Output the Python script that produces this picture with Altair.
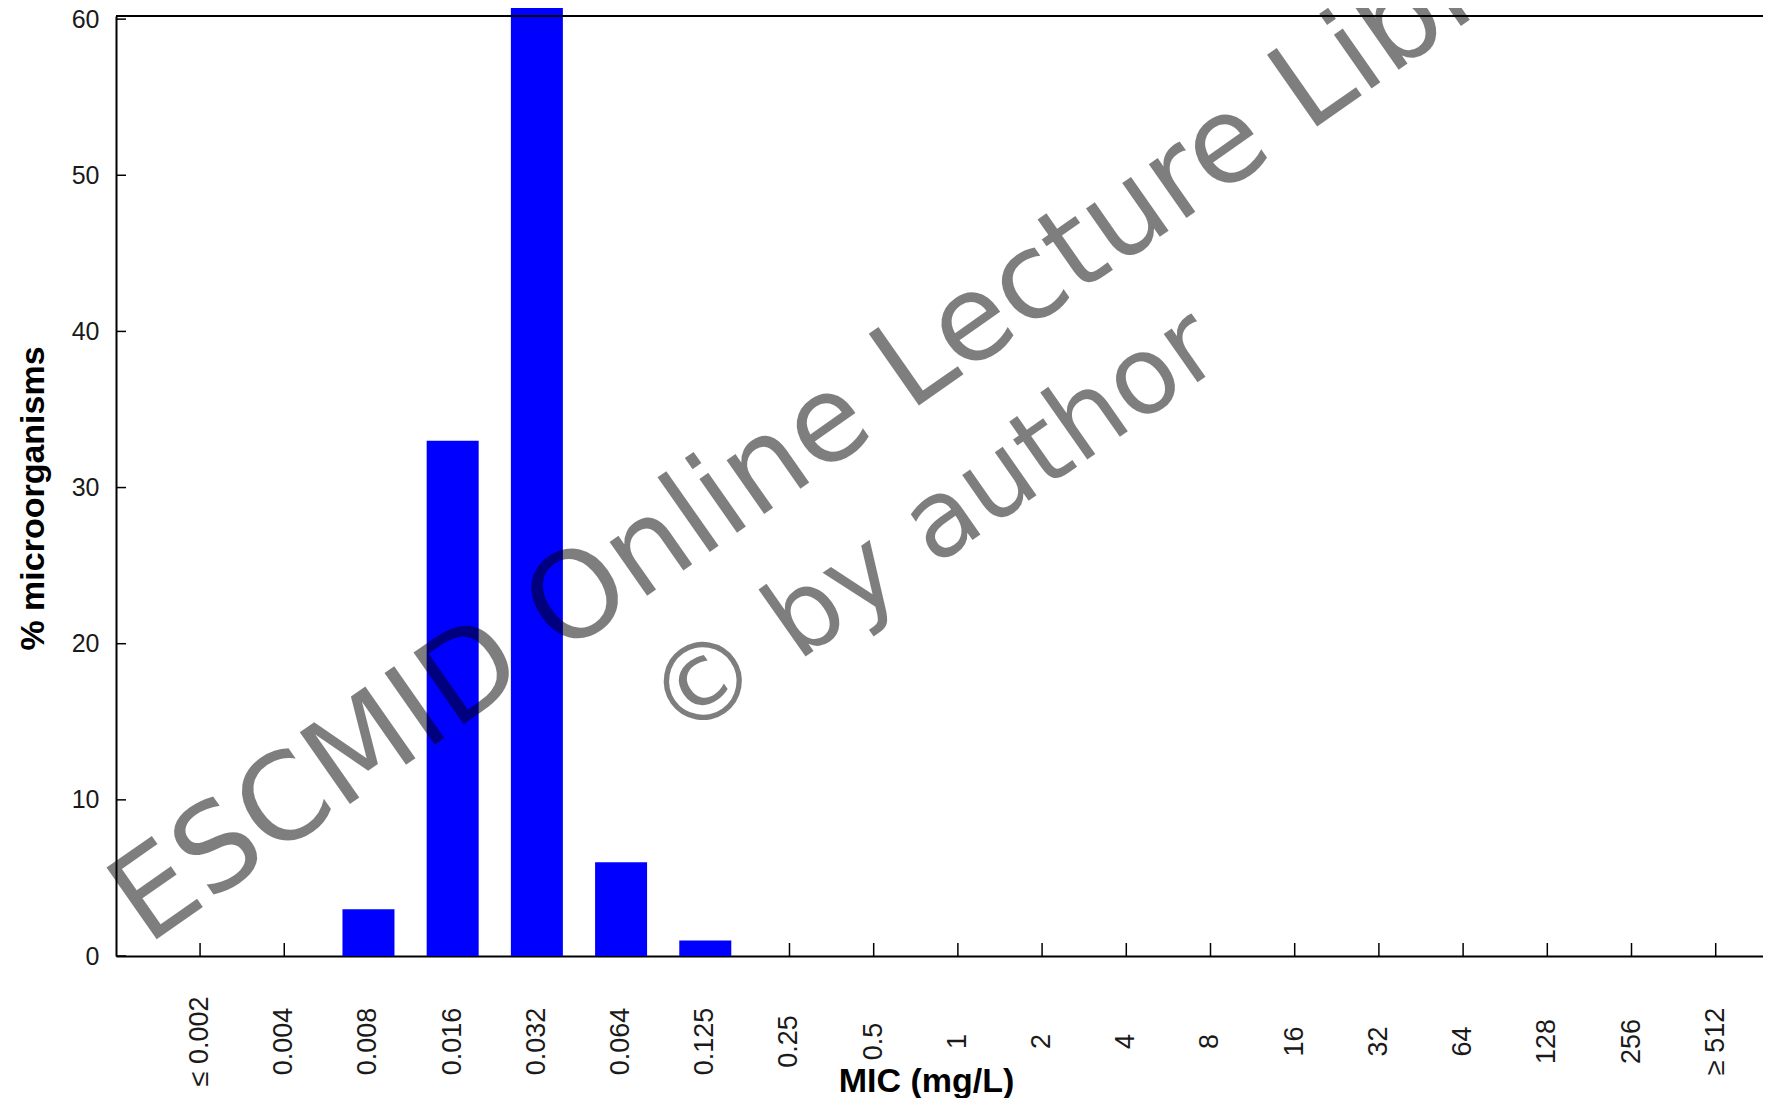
import altair as alt
import pandas as pd

mic_labels = ["≤ 0.002", "0.004", "0.008", "0.016", "0.032", "0.064", "0.125",
              "0.25", "0.5", "1", "2", "4", "8", "16", "32", "64", "128", "256", "≥ 512"]
pct_values = [0, 0, 3, 33, 61, 6, 1, 0, 0, 0, 0, 0, 0, 0, 0, 0, 0, 0, 0]
y_tick_values = [0, 10, 20, 30, 40, 50, 60]
watermark_lines = ["ESCMID Online Lecture Library", "© by author"]

W, H = 1647, 940
FONT = "Liberation Sans"
WMFONT = "DejaVu Sans"

df = pd.DataFrame({"mic": mic_labels, "pct": pct_values})
ydf = pd.DataFrame({"v": y_tick_values})

xscale = alt.Scale(domain=mic_labels, paddingInner=0, paddingOuter=0.28, align=0.89)
yscale = alt.Scale(domain=[0, 60.2], nice=False)

x_enc = alt.X("mic:N", scale=xscale, sort=None, axis=alt.Axis(
    title="MIC (mg/L)", labelAngle=270, labelAlign="center", labelBaseline="middle",
    labelPadding=85, ticks=False, tickSize=0, domainWidth=2, domainColor="black",
    labelFont=FONT, labelFontSize=27, labelColor="#1a1a1a", grid=False,
    titleFont=FONT, titleFontSize=34, titleFontWeight="bold", titleColor="black",
    titleX=810, titleY=135, titleAlign="center", titleBaseline="alphabetic", titleAngle=0,
    labelOverlap=False))
y_enc = alt.Y("pct:Q", scale=yscale, axis=alt.Axis(
    title="% microorganisms", values=y_tick_values, labelPadding=17, ticks=False, tickSize=0,
    domainWidth=2, domainColor="black", grid=False,
    labelFont=FONT, labelFontSize=25, labelColor="#1a1a1a",
    titleFont=FONT, titleFontSize=34, titleFontWeight="bold", titleColor="black",
    titleAngle=270, titleX=-73, titleY=482, titleAlign="center", titleBaseline="alphabetic"))

xticks = alt.Chart(df).mark_rule(color="black", strokeWidth=1.5).encode(
    x=alt.X("mic:N", scale=xscale, sort=None),
    y=alt.value(H), y2=alt.value(H - 13))

yticks = alt.Chart(ydf).mark_rule(color="black", strokeWidth=1.5).encode(
    y=alt.Y("v:Q", scale=yscale), x=alt.value(0), x2=alt.value(10))

bars = alt.Chart(df).mark_bar(color="#0000ff", size=52).encode(x=x_enc, y=y_enc)

topline = alt.Chart(df).mark_rule(color="black", strokeWidth=2).encode(
    x=alt.value(0), x2=alt.value(W), y=alt.value(0))

wm1 = alt.Chart(pd.DataFrame({"t": [watermark_lines[0]]})).mark_text(
    font=WMFONT, fontSize=120, angle=325, align="left", baseline="alphabetic",
    color="black", opacity=0.5).encode(text="t:N", x=alt.value(31), y=alt.value(930))
wm2 = alt.Chart(pd.DataFrame({"t": [watermark_lines[1]]})).mark_text(
    font=WMFONT, fontSize=108, angle=325, align="left", baseline="alphabetic",
    color="black", opacity=0.5).encode(text="t:N", x=alt.value(565), y=alt.value(728))

chart = alt.layer(xticks, yticks, bars, topline, wm1, wm2).properties(
    width=W, height=H,
    autosize=alt.AutoSizeParams(type="none"),
    padding={"left": 108, "top": 8, "right": 0, "bottom": 142},
    background="white",
).configure_view(strokeWidth=0)

chart.save("out.html", embed_options={"renderer": "svg", "actions": False})
